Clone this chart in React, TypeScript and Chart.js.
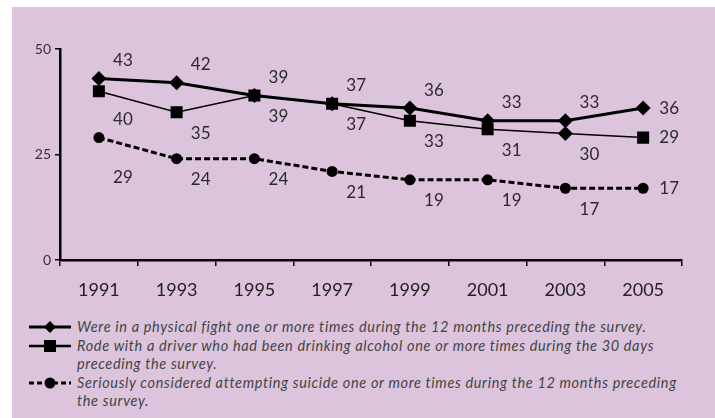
import React, { useEffect, useRef } from "react";
import { Chart, registerables } from "chart.js";

Chart.register(...registerables);

const years = ["1991", "1993", "1995", "1997", "1999", "2001", "2003", "2005"];
const fight = [43, 42, 39, 37, 36, 33, 33, 36];
const rode = [40, 35, 39, 37, 33, 31, 30, 29];
const suicide = [29, 24, 24, 21, 19, 19, 17, 17];
const yTicks = [0, 25, 50];
const legendLines = [
  ["Were in a physical fight one or more times during the 12 months preceding the survey."],
  ["Rode with a driver who had been drinking alcohol one or more times during the 30 days", "preceding the survey."],
  ["Seriously considered attempting suicide one or more times during the 12 months preceding", "the survey."],
];

const BG = "#dcc4dc";
const FONT = "Lato, 'Open Sans', sans-serif";

const labelPlugin = {
  id: "valueLabels",
  afterDatasetsDraw(chart: any) {
    const ctx = chart.ctx;
    ctx.save();
    ctx.font = `17px ${FONT}`;
    ctx.fillStyle = "#2b2b2b";
    ctx.textAlign = "center";
    ctx.textBaseline = "middle";
    chart.data.datasets.forEach((ds: any, di: number) => {
      const meta = chart.getDatasetMeta(di);
      meta.data.forEach((pt: any, i: number) => {
        const last = i === meta.data.length - 1;
        let dx = 24;
        let dy = ds.labelDy;
        if (i === 0 && ds.firstDy !== undefined) dy = ds.firstDy;
        if (last) {
          dx = 26;
          dy = 0;
        }
        ctx.fillText(String(ds.data[i]), pt.x + dx, pt.y + dy);
      });
    });
    ctx.restore();
  },
};

function Marker({ kind }: { kind: string }) {
  return (
    <svg width={44} height={14} style={{ display: "block" }}>
      {kind === "dash" ? (
        <line x1={1} y1={7} x2={43} y2={7} stroke="#000" strokeWidth={3} strokeDasharray="5,3" />
      ) : (
        <line x1={1} y1={7} x2={43} y2={7} stroke="#000" strokeWidth={kind === "diamond" ? 3 : 2.5} />
      )}
      {kind === "diamond" && <polygon points="22,1 28,7 22,13 16,7" fill="#000" />}
      {kind === "square" && <rect x={16} y={1} width={12} height={12} fill="#000" />}
      {kind === "dash" && <circle cx={22} cy={7} r={5.5} fill="#000" />}
    </svg>
  );
}

export default function App() {
  const ref = useRef<HTMLCanvasElement | null>(null);

  useEffect(() => {
    document.body.style.margin = "0";
    const canvas = ref.current;
    if (!canvas) return;
    const chart = new Chart(canvas, {
      type: "line",
      data: {
        labels: years,
        datasets: [
          {
            label: "fight",
            data: fight,
            borderColor: "#000",
            backgroundColor: "#000",
            borderWidth: 3,
            pointStyle: "rectRot",
            pointRadius: 7.5,
            pointBorderWidth: 0,
            labelDy: -18,
          } as any,
          {
            label: "rode",
            data: rode,
            borderColor: "#000",
            backgroundColor: "#000",
            borderWidth: 1.5,
            pointStyle: ["rect", "rect", "rect", "rect", "rect", "rect", "rectRot", "rect"],
            pointRadius: [8.5, 8.5, 8.5, 8.5, 8.5, 8.5, 7.5, 8.5],
            pointBorderWidth: 0,
            labelDy: 21,
            firstDy: 28,
          } as any,
          {
            label: "suicide",
            data: suicide,
            borderColor: "#000",
            backgroundColor: "#000",
            borderWidth: 3,
            borderDash: [6, 3],
            pointStyle: "circle",
            pointRadius: 5.5,
            pointBorderWidth: 0,
            labelDy: 21,
            firstDy: 40,
          } as any,
        ],
      },
      options: {
        animation: false,
        responsive: false,
        layout: { padding: { top: 42, right: 33, left: 0, bottom: 0 } },
        plugins: { legend: { display: false }, tooltip: { enabled: false } },
        scales: {
          x: {
            offset: true,
            grid: { display: true, drawOnChartArea: false, offset: true, color: "#000", lineWidth: 1.5, tickLength: 6 },
            border: { display: true, color: "#000", width: 2.5 },
            ticks: { color: "#222", font: { family: FONT, size: 18 }, padding: 13, maxRotation: 0 },
            afterFit: (s: any) => {
              s.height = 47;
            },
          },
          y: {
            min: 0,
            max: 50,
            afterBuildTicks: (s: any) => {
              s.ticks = yTicks.map((v) => ({ value: v }));
            },
            grid: { display: true, drawOnChartArea: false, color: "#000", lineWidth: 1.5, tickLength: 5 },
            border: { display: true, color: "#000", width: 2.5 },
            ticks: { color: "#333", font: { family: FONT, size: 14 }, padding: 4 },
            afterFit: (s: any) => {
              s.width = 48;
            },
          },
        },
      },
      plugins: [labelPlugin],
    });
    return () => chart.destroy();
  }, []);

  const kinds = ["diamond", "square", "dash"];

  return (
    <div
      style={{
        position: "absolute",
        left: 12,
        top: 7,
        width: 703,
        height: 411,
        background: BG,
        overflow: "hidden",
      }}
    >
      <canvas ref={ref} width={703} height={300} style={{ display: "block" }} />
      <div style={{ position: "absolute", left: 16, top: 311, fontFamily: FONT, fontStyle: "italic", fontSize: 14.5, letterSpacing: "0.65px", color: "#444", lineHeight: "18.5px" }}>
        {legendLines.map((lines, i) => (
          <div key={i} style={{ display: "flex", alignItems: "flex-start" }}>
            <div style={{ width: 49, paddingTop: 2 }}>
              <Marker kind={kinds[i]} />
            </div>
            <div>
              {lines.map((l, j) => (
                <div key={j} style={{ whiteSpace: "nowrap" }}>{l}</div>
              ))}
            </div>
          </div>
        ))}
      </div>
    </div>
  );
}
